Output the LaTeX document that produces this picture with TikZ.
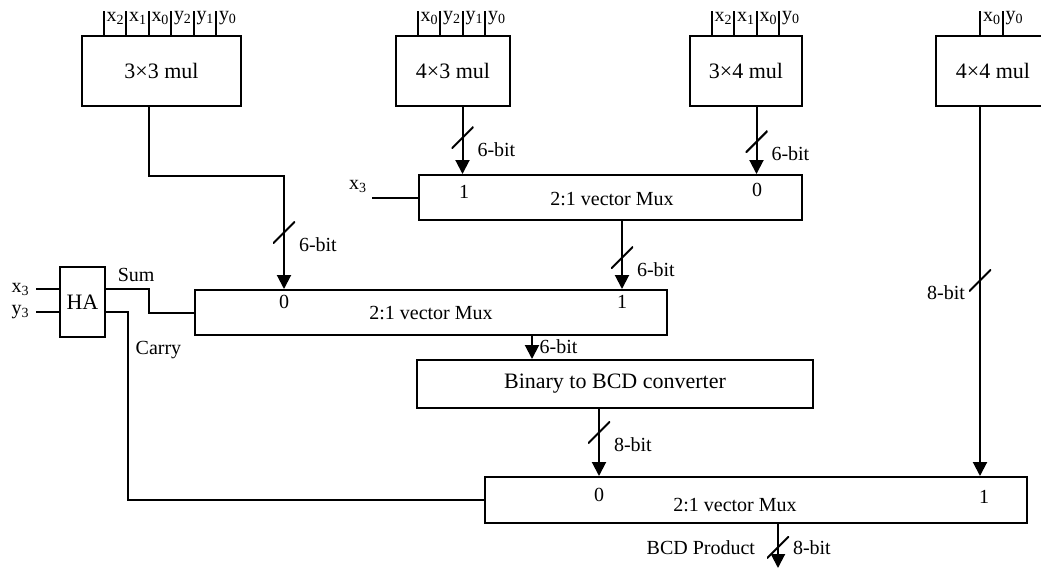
\documentclass[tikz,border=0pt]{standalone}
\usepackage{fontspec}
\setmainfont{Liberation Serif}
\usepackage{tikz}
\usetikzlibrary{calc, arrows.meta, positioning}
\tikzset{
	line width = 1pt,
	font = \fontsize{10}{12}\selectfont,
	block/.style={
		draw,
		rectangle,
		line width=1pt,
		inner sep=0pt,
		font=\fontsize{11}{13}\selectfont
	},
	wire/.style={
		-,
		line width=1pt
	},
	bus/.style={
		-{Triangle[width=7pt,length=7pt]},
		line width=1pt
	},
	slash/.style={
		inner sep=0pt,
		minimum size=11pt,
		path picture={\draw[-, line width=1pt] (path picture bounding box.south west) -- (path picture bounding box.north east);}
	},
	bits/.style={label={[anchor=west, inner sep=1pt]south east:#1}},
	bitsl/.style={label={[anchor=east, inner sep=1pt]south west:#1}},
	pin/.style={anchor=west, inner sep=1pt}
}

\begin{document}
\begin{tikzpicture}[x=0.5pt, y=-0.5pt]
		\useasboundingbox (0,0) rectangle (1041,570);

		% multipliers
		\node[block, minimum width=79.5pt, minimum height=35pt] (m33) at (161.5,71) {3×3 mul};
		\node[block, minimum width=57pt, minimum height=35pt] (m43) at (453,71) {4×3 mul};
		\node[block, minimum width=56pt, minimum height=35pt] (m34) at (746,71) {3×4 mul};
		\node[block, minimum width=57pt, minimum height=35pt] (m44) at (993,71) {4×4 mul};

		\foreach \v/\n [count=\i] in {x/2,x/1,x/0,y/2,y/1,y/0} {
			\draw[wire] ($(m33.north west)+(\i*22.5,0)$) coordinate (m33p\i) -- ++(0,-24) node[pin, pos=.7] (m33l\i) {\v\textsubscript{\n}};
		}
		\foreach \v/\n [count=\i] in {x/0,y/2,y/1,y/0} {
			\draw[wire] ($(m43.north west)+(\i*22.5,0)$) coordinate (m43p\i) -- ++(0,-24) node[pin, pos=.7] (m43l\i) {\v\textsubscript{\n}};
		}
		\foreach \v/\n [count=\i] in {x/2,x/1,x/0,y/0} {
			\draw[wire] ($(m34.north west)+(\i*22.5,0)$) coordinate (m34p\i) -- ++(0,-24) node[pin, pos=.7] (m34l\i) {\v\textsubscript{\n}};
		}
		\foreach \v/\n [count=\i from 2] in {x/0,y/0} {
			\draw[wire] ($(m44.north west)+(\i*22.5,0)$) coordinate (m44p\i) -- ++(0,-24) node[pin, pos=.7] (m44l\i) {\v\textsubscript{\n}};
		}

		% muxes
		\node[block, minimum width=191.5pt, minimum height=22.5pt] (muxA) at (610.5,197.5) {};
		\node[block, minimum width=236pt, minimum height=22.5pt] (muxB) at (431,312.5) {};
		\node[block, minimum width=198pt, minimum height=24pt] (bcd) at (615,384) {Binary to BCD converter};
		\node[block, minimum width=271pt, minimum height=23pt] (muxC) at (756,500) {};
		\node[block, minimum width=22.5pt, minimum height=35pt] (ha) at (82.5,302) {HA};

		\node (tA) at (612,199) {2:1 vector Mux};
		\node (tB) at (431,313) {2:1 vector Mux};
		\node (tC) at (735,505) {2:1 vector Mux};

		\node (pA1) at (464,192) {1};
		\node (pA0) at (757,190) {0};
		\node (pB0) at (284,302) {0};
		\node (pB1) at (622,302) {1};
		\node (pC0) at (599,495) {0};
		\node (pC1) at (984,497) {1};

		\node[anchor=east, inner sep=3pt] (ix3) at (36,289) {x\textsubscript{3}};
		\node[anchor=east, inner sep=3pt] (iy3) at (36,312) {y\textsubscript{3}};

		\coordinate (cB) at ($(muxB.south)+(101,0)$);
		\coordinate (out) at (778,568);

		\draw[bus] (m33p3 |- m33.south) -- ++(0,69) -| node[slash, bits=6-bit, pos=.75] (s1) {} (pB0 |- muxB.north);
		\draw[bus] (m43p3 |- m43.south) -- node[slash, bits=6-bit, pos=.46] (s2) {} (m43p3 |- muxA.north);
		\draw[bus] (m34p3 |- m34.south) -- node[slash, bits=6-bit, pos=.52] (s3) {} (m34p3 |- muxA.north);
		\draw[wire] (muxA.west) -- ++(-46,0) node[above left, inner sep=2pt] (selA) {x\textsubscript{3}};
		\draw[bus] (pB1 |- muxA.south) -- node[slash, bits=6-bit, pos=.54] (s4) {} (pB1 |- muxB.north);
		\draw[bus] (cB) -- node[right, pos=.45] (l5) {6-bit} (cB |- bcd.north);
		\draw[bus] (pC0 |- bcd.south) -- node[slash, bits=8-bit, pos=.35] (s6) {} (pC0 |- muxC.north);
		\draw[bus] (m44p2 |- m44.south) -- node[slash, bitsl=8-bit, pos=.47] (s7) {} (m44p2 |- muxC.north);
		\draw[bus] (out |- muxC.south) -- node[slash, pos=.53, label={[anchor=east, inner sep=5pt]west:BCD Product}, label={[anchor=west, inner sep=1pt]east:8-bit}] (s8) {} (out);

		% half adder
		\draw[wire] (ix3.east) -- (ix3.east -| ha.west);
		\draw[wire] (iy3.east) -- (iy3.east -| ha.west);
		\draw[wire] (ha.east |- ix3) -- node[above, pos=.7] (lsum) {Sum} ++(43,0) |- (muxB.west);
		\draw[wire] (ha.east |- iy3) -- ++(22,0) |- node[right, pos=.1] (lcarry) {Carry} (muxC.west);
	\end{tikzpicture}
\end{document}
